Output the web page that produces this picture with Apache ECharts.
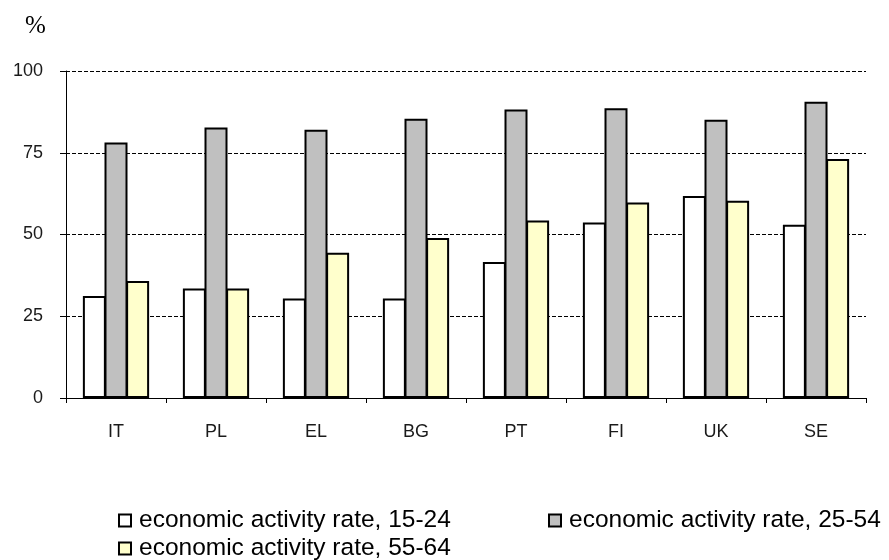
<!DOCTYPE html>
<html>
<head>
<meta charset="utf-8">
<script src="https://cdn.jsdelivr.net/npm/echarts@6/dist/echarts.min.js"></script>
<style>
  html, body { margin: 0; padding: 0; background: #ffffff; }
  #chart { width: 889px; height: 560px; }
</style>
</head>
<body>
<div id="chart"></div>
<script>
// Countries along the x axis
const countries = ['IT', 'PL', 'EL', 'BG', 'PT', 'FI', 'UK', 'SE'];

// Economic activity rates (%) by age group
const rate15to24 = [31.2, 33.5, 30.4, 30.4, 41.6, 53.7, 61.8, 53.0];
const rate25to54 = [78.1, 82.7, 82.0, 85.4, 88.2, 88.6, 85.1, 90.6];
const rate55to64 = [35.8, 33.5, 44.4, 48.9, 54.3, 59.8, 60.3, 73.1];

const seriesNames = [
  'economic activity rate, 15-24',
  'economic activity rate, 25-54',
  'economic activity rate, 55-64'
];
const seriesColors = ['#ffffff', '#c0c0c0', '#ffffcc'];

// Y axis ticks
const yTicks = [0, 25, 50, 75, 100];

const font = 'Liberation Sans, Arial, sans-serif';

function barSeries(name, data, color) {
  return {
    name: name,
    type: 'bar',
    data: data,
    barWidth: 23,
    barGap: '-6%',
    itemStyle: { color: color, borderColor: '#000000', borderWidth: 2 },
    emphasis: { disabled: true }
  };
}

function legendAt(name, left, top) {
  return {
    data: [name],
    left: left,
    top: top,
    icon: 'rect',
    itemWidth: 12,
    itemHeight: 12,
    itemGap: 0,
    padding: 0,
    selectedMode: false,
    textStyle: { fontFamily: font, fontSize: 24.5, color: '#000000', padding: [0, 0, 0, 3] }
  };
}

const chart = echarts.init(document.getElementById('chart'), null, { renderer: 'canvas' });

chart.setOption({
  animation: false,
  backgroundColor: '#ffffff',
  title: {
    text: '%',
    left: 25,
    top: 14,
    padding: 0,
    textStyle: { fontFamily: 'Liberation Serif, Times New Roman, serif', fontWeight: 'normal', fontSize: 25, color: '#000000' }
  },
  grid: { left: 66, right: 23, top: 71, bottom: 162, containLabel: false },
  legend: [
    legendAt(seriesNames[0], 118, 508),
    legendAt(seriesNames[1], 548, 508),
    legendAt(seriesNames[2], 118, 536)
  ],
  xAxis: {
    type: 'category',
    data: countries,
    axisLine: { show: true, lineStyle: { color: '#000000', width: 1 } },
    axisTick: { show: true, alignWithLabel: false, length: 5, lineStyle: { color: '#000000' } },
    axisLabel: { fontFamily: font, fontSize: 18, color: '#1a1a1a', margin: 25 },
    splitLine: { show: false }
  },
  yAxis: {
    type: 'value',
    min: yTicks[0],
    max: yTicks[yTicks.length - 1],
    interval: 25,
    axisLine: { show: true, lineStyle: { color: '#000000', width: 1 } },
    axisTick: { show: true, length: 6, lineStyle: { color: '#000000' } },
    axisLabel: { fontFamily: font, fontSize: 18, color: '#1a1a1a', margin: 23 },
    splitLine: { show: true, lineStyle: { color: '#000000', type: [4, 2], width: 1 } }
  },
  series: [
    barSeries(seriesNames[0], rate15to24, seriesColors[0]),
    barSeries(seriesNames[1], rate25to54, seriesColors[1]),
    barSeries(seriesNames[2], rate55to64, seriesColors[2])
  ]
});
</script>
</body>
</html>
